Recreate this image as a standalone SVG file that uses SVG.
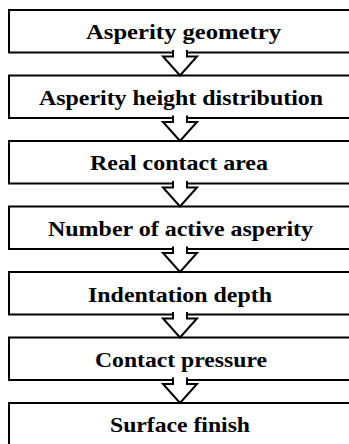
<svg xmlns="http://www.w3.org/2000/svg" width="349" height="444" viewBox="0 0 349 444">
<style>
.box{fill:#fff;stroke:#000;stroke-width:2}
.lbl{font-family:"Liberation Serif","Times New Roman",serif;font-weight:bold;font-size:21.5px;text-anchor:middle;fill:#000}
.arr{fill:#fff;stroke:#000;stroke-width:2;stroke-linejoin:miter}
</style>
<rect width="349" height="444" fill="#fff"/>
<g id="n1"><rect class="box" x="9" y="10" width="345" height="42.5"/><text class="lbl" x="183.5" y="39" textLength="195" lengthAdjust="spacingAndGlyphs">Asperity geometry</text></g>
<g id="n2"><rect class="box" x="9" y="75.5" width="345" height="42.5"/><text class="lbl" x="181" y="104.5" textLength="284" lengthAdjust="spacingAndGlyphs">Asperity height distribution</text></g>
<g id="n3"><rect class="box" x="9" y="141" width="345" height="42.5"/><text class="lbl" x="179" y="170" textLength="178" lengthAdjust="spacingAndGlyphs">Real contact area</text></g>
<g id="n4"><rect class="box" x="9" y="206.5" width="345" height="42.5"/><text class="lbl" x="180.5" y="235.5" textLength="265" lengthAdjust="spacingAndGlyphs">Number of active asperity</text></g>
<g id="n5"><rect class="box" x="9" y="272" width="345" height="42.5"/><text class="lbl" x="180" y="301.5" textLength="184" lengthAdjust="spacingAndGlyphs">Indentation depth</text></g>
<g id="n6"><rect class="box" x="9" y="337.5" width="345" height="42.5"/><text class="lbl" x="181" y="366.5" textLength="172" lengthAdjust="spacingAndGlyphs">Contact pressure</text></g>
<g id="n7"><rect class="box" x="9" y="403" width="345" height="44"/><text class="lbl" x="180" y="432" textLength="140" lengthAdjust="spacingAndGlyphs">Surface finish</text></g>
<g id="connectors">
<path class="arr" d="M173,50 V56.5 H163 L180,75.5 L197,56.5 H187 V50"/>
<path class="arr" d="M173,115.5 V122 H163 L180,141 L197,122 H187 V115.5"/>
<path class="arr" d="M173,181 V187.5 H163 L180,206.5 L197,187.5 H187 V181"/>
<path class="arr" d="M173,246.5 V253 H163 L180,272 L197,253 H187 V246.5"/>
<path class="arr" d="M173,312 V318.5 H163 L180,337.5 L197,318.5 H187 V312"/>
<path class="arr" d="M173,377.5 V384 H163 L180,403 L197,384 H187 V377.5"/>
</g>
</svg>
